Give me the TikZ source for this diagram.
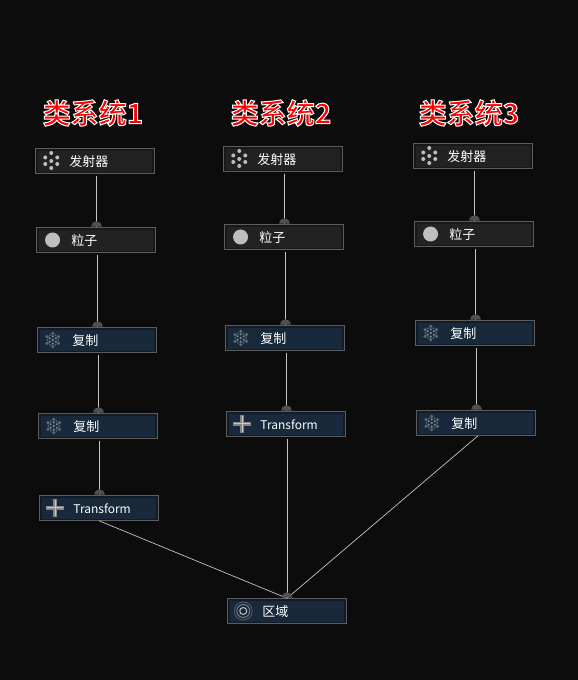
\documentclass[tikz,border=0pt]{standalone}
\usepackage{fontspec}
\setmainfont{Noto Sans CJK SC}
\newfontfamily\titlefont{Noto Sans CJK SC Bold}
\newcommand\ttltext[1]{\special{pdf:code q 2 Tr 1 w 1 1 1 RG 1 0 0 rg}#1\special{pdf:code Q}}
\definecolor{bgc}{HTML}{0C0C0C}
\definecolor{edgec}{HTML}{5C5C5C}
\definecolor{grayf}{HTML}{222222}
\definecolor{grayb}{HTML}{181818}
\definecolor{bluef}{HTML}{17293A}
\definecolor{blueb}{HTML}{111C26}
\definecolor{linkc}{HTML}{C4C4C4}
\definecolor{portc}{HTML}{505050}
\definecolor{iconc}{HTML}{BEBEBE}
\definecolor{flowc}{HTML}{76838F}
\tikzset{
  x=1pt,y=1pt,
  gbox/.style={draw=edgec,line width=1pt,fill=grayb,minimum width=119.5pt,minimum height=25.5pt,inner sep=0pt,outer sep=0pt},
  bbox/.style={gbox,fill=blueb},
  lbl/.style={anchor=west,text=white,inner sep=0pt,yshift=-1pt,font=\fontsize{13}{15}\selectfont},
  lblen/.style={lbl,font=\fontsize{12}{14}\selectfont},
  ttl/.style={inner sep=0pt,font=\titlefont\fontsize{28}{30}\selectfont},
  link/.style={draw=linkc,line width=.8pt,shorten <=2pt},
  diag/.style={draw=linkc,line width=.7pt},
}
\newcommand\fillbox[3]{\fill[#3] ([shift={(2.5,-2.5)}]#1.north west) rectangle ([shift={(-2.5,1.5)}]#1.south east);}
\newcommand\gnode[3]{\node[gbox] (#1) at (#2) {};\fillbox{#1}{}{grayf}}
\newcommand\bnode[3]{\node[bbox] (#1) at (#2) {};\fillbox{#1}{}{bluef}}
\newcommand\portat[1]{\fill[portc] ([xshift=-5.5pt,yshift=.5pt]#1p) arc[start angle=180,end angle=0,radius=5.5pt] -- cycle;}
\newcommand\linkv[2]{\coordinate (#2p) at ([xshift=.5pt]#2.north);\draw[link] (#2p |- #1.south) -- (#2p);\portat{#2}}
\newcommand\iconEmit[1]{\begin{scope}[shift={(#1.west)},xshift=16pt]
 \foreach \px/\py in {0/0,0/8,0/-7,-6/3.5,6/3.5,-6/-3,6/-3}{\fill[iconc] (\px,\py) circle[radius=2];}
 \end{scope}}
\newcommand\iconDot[1]{\fill[iconc] ([xshift=16.3pt]#1.west) circle[radius=7.5];}
\newcommand\iconFlow[1]{\begin{scope}[shift={(#1.west)},xshift=15.5pt]
 \fill[flowc] (0,0) circle[radius=1.4];
 \foreach \a in {0,60,...,300}{\fill[flowc] (\a+30:3.6) circle[radius=1.3];\fill[flowc!80!black] (\a+30:6.6) circle[radius=1.8];\fill[flowc!75!black] (\a:5.4) circle[radius=1.1];}
 \end{scope}}
\newcommand\iconPlus[1]{\begin{scope}[shift={(#1.west)},xshift=16pt]
 \fill[iconc!70!black] (-9,-2) rectangle (9,2);
 \fill[iconc!70!black] (-2,-9) rectangle (2,9);
 \fill[iconc!85!white] (-8,-.5) rectangle (8,.5);
 \fill[iconc!85!white] (-.5,-8) rectangle (.5,8);
 \end{scope}}
\newcommand\iconRings[1]{\begin{scope}[shift={(#1.west)},xshift=16pt]
 \draw[flowc!70!black,line width=.8pt] (0,0) circle[radius=9];
 \draw[flowc,line width=.9pt] (0,0) circle[radius=6.5];
 \draw[iconc,line width=1pt] (0,0) circle[radius=3.5];
 \end{scope}}
\begin{document}
\begin{tikzpicture}
\useasboundingbox (0,0) rectangle (578,680);
\fill[bgc] (0,0) rectangle (578,680);

\node[ttl] (t1) at (93,567) {\ttltext{类系统1}};
\node[ttl] (t2) at (281,567) {\ttltext{类系统2}};
\node[ttl] (t3) at (469,567) {\ttltext{类系统3}};

% system 1
\gnode{a1}{95,519}{}
\gnode{a2}{96,440}{}
\bnode{a3}{97,340}{}
\bnode{a4}{98,254}{}
\bnode{a5}{99,172}{}
% system 2
\gnode{b1}{283,521}{}
\gnode{b2}{284,443}{}
\bnode{b3}{285,342}{}
\bnode{b4}{286,256}{}
% system 3
\gnode{c1}{473,524}{}
\gnode{c2}{474,446}{}
\bnode{c3}{475,347}{}
\bnode{c4}{476,257}{}
% target
\bnode{z}{287,69}{}

\linkv{a1}{a2}\linkv{a2}{a3}\linkv{a3}{a4}\linkv{a4}{a5}
\linkv{b1}{b2}\linkv{b2}{b3}\linkv{b3}{b4}
\linkv{c1}{c2}\linkv{c2}{c3}\linkv{c3}{c4}

\coordinate (zp) at (z.north);
\draw[diag] (a5.south) -- (zp);
\draw[link] (b4.south) ++(1,0) coordinate (b4s) -- (b4s |- zp);
\draw[diag] ([xshift=2pt]c4.south) -- (zp);
\portat{z}

\iconEmit{a1}\iconEmit{b1}\iconEmit{c1}
\iconDot{a2}\iconDot{b2}\iconDot{c2}
\iconFlow{a3}\iconFlow{a4}\iconFlow{b3}\iconFlow{c3}\iconFlow{c4}
\iconPlus{a5}\iconPlus{b4}
\iconRings{z}

\node[lbl] (a1t) at ([xshift=34pt]a1.west) {发射器};
\node[lbl] (a2t) at ([xshift=35pt]a2.west) {粒子};
\node[lbl] (a3t) at ([xshift=35pt]a3.west) {复制};
\node[lbl] (a4t) at ([xshift=35pt]a4.west) {复制};
\node[lblen] (a5t) at ([xshift=34pt]a5.west) {Transform};
\node[lbl] (b1t) at ([xshift=34pt]b1.west) {发射器};
\node[lbl] (b2t) at ([xshift=35pt]b2.west) {粒子};
\node[lbl] (b3t) at ([xshift=35pt]b3.west) {复制};
\node[lblen] (b4t) at ([xshift=34pt]b4.west) {Transform};
\node[lbl] (c1t) at ([xshift=34pt]c1.west) {发射器};
\node[lbl] (c2t) at ([xshift=35pt]c2.west) {粒子};
\node[lbl] (c3t) at ([xshift=35pt]c3.west) {复制};
\node[lbl] (c4t) at ([xshift=35pt]c4.west) {复制};
\node[lbl] (zt) at ([xshift=35pt]z.west) {区域};
\end{tikzpicture}
\end{document}
